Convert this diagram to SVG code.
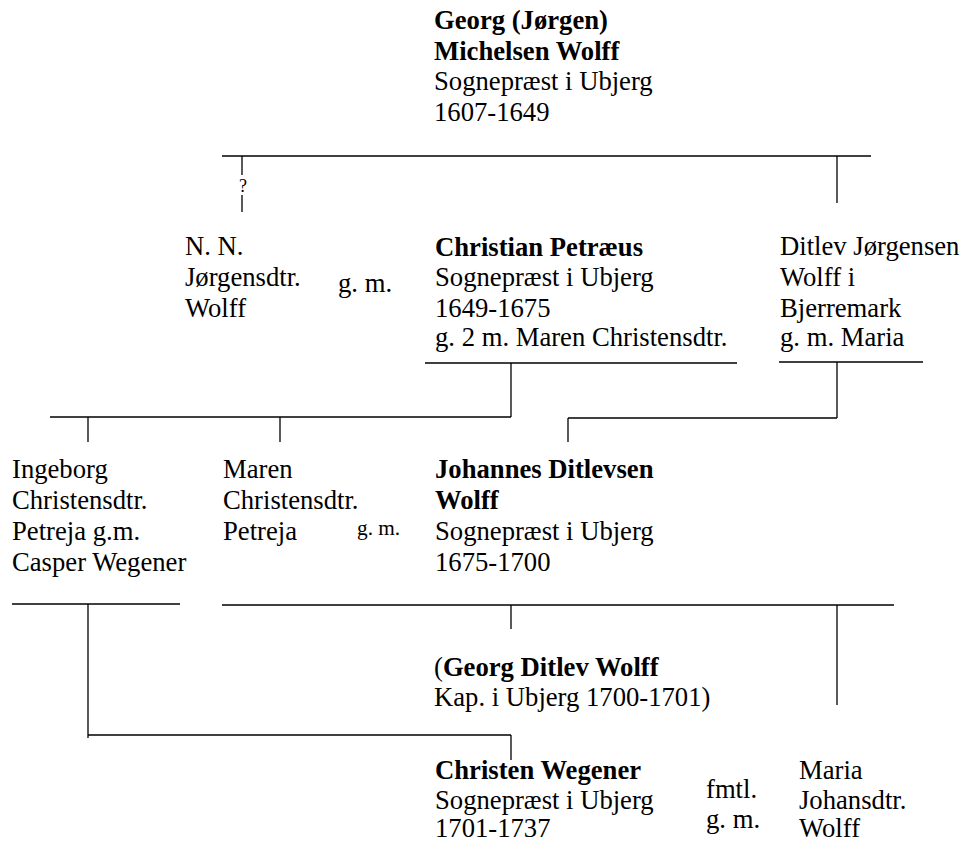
<svg xmlns="http://www.w3.org/2000/svg" width="962" height="843" viewBox="0 0 962 843">
<style>
  text { font-family: "Liberation Serif", "Times New Roman", serif; font-size: 26.67px; fill: #000; }
  .b { font-weight: bold; }
  .sm { font-size: 21.3px; }
  .q { font-size: 18px; }
  .c line { stroke: #000; stroke-width: 1.3; fill: none; }
</style>
<rect x="0" y="0" width="962" height="843" fill="#fff"/>
<g class="c" id="connectors">
  <line x1="222" y1="156" x2="871" y2="156"/>
  <line x1="242" y1="156" x2="242" y2="175"/>
  <line x1="242" y1="195" x2="242" y2="212"/>
  <line x1="837" y1="156" x2="837" y2="203"/>
  <line x1="425" y1="363" x2="737" y2="363"/>
  <line x1="511" y1="363" x2="511" y2="417"/>
  <line x1="50" y1="417" x2="511" y2="417"/>
  <line x1="88" y1="417" x2="88" y2="442"/>
  <line x1="280" y1="417" x2="280" y2="442"/>
  <line x1="779" y1="362" x2="923" y2="362"/>
  <line x1="837" y1="362" x2="837" y2="418"/>
  <line x1="568" y1="418" x2="837" y2="418"/>
  <line x1="568" y1="418" x2="568" y2="442"/>
  <line x1="12" y1="604" x2="180" y2="604"/>
  <line x1="88" y1="604" x2="88" y2="738"/>
  <line x1="88" y1="735" x2="511" y2="735"/>
  <line x1="511" y1="735" x2="511" y2="760"/>
  <line x1="222" y1="605" x2="894" y2="605"/>
  <line x1="511" y1="605" x2="511" y2="629"/>
  <line x1="837" y1="605" x2="837" y2="705"/>
  <text class="q" x="243" y="192" text-anchor="middle">?</text>
</g>
<g id="n-georg">
  <text class="b" x="434" y="29">Georg (Jørgen)</text>
  <text class="b" x="434" y="59.7">Michelsen Wolff</text>
  <text x="434" y="90.3">Sognepræst i Ubjerg</text>
  <text x="434" y="121">1607-1649</text>
</g>
<g id="n-nn">
  <text x="185" y="255">N. N.</text>
  <text x="185" y="286">Jørgensdtr.</text>
  <text x="185" y="317">Wolff</text>
</g>
<g id="gm-1"><text x="338" y="292">g. m.</text></g>
<g id="n-christian">
  <text class="b" x="435" y="256">Christian Petræus</text>
  <text x="435" y="286">Sognepræst i Ubjerg</text>
  <text x="435" y="317">1649-1675</text>
  <text x="435" y="346">g. 2 m. Maren Christensdtr.</text>
</g>
<g id="n-ditlev">
  <text x="780" y="255">Ditlev Jørgensen</text>
  <text x="780" y="286">Wolff i</text>
  <text x="780" y="317">Bjerremark</text>
  <text x="780" y="346">g. m. Maria</text>
</g>
<g id="n-ingeborg">
  <text x="12" y="478">Ingeborg</text>
  <text x="12" y="509">Christensdtr.</text>
  <text x="12" y="540">Petreja g.m.</text>
  <text x="12" y="571">Casper Wegener</text>
</g>
<g id="n-maren">
  <text x="223" y="478">Maren</text>
  <text x="223" y="509">Christensdtr.</text>
  <text x="223" y="540">Petreja</text>
</g>
<g id="gm-2"><text class="sm" x="357" y="535">g. m.</text></g>
<g id="n-johannes">
  <text class="b" x="435" y="478">Johannes Ditlevsen</text>
  <text class="b" x="435" y="509">Wolff</text>
  <text x="435" y="540">Sognepræst i Ubjerg</text>
  <text x="435" y="571">1675-1700</text>
</g>
<g id="n-georg-ditlev">
  <text x="434" y="676">(<tspan class="b">Georg Ditlev Wolff</tspan></text>
  <text x="434" y="706">Kap. i Ubjerg 1700-1701)</text>
</g>
<g id="n-christen">
  <text class="b" x="435" y="779">Christen Wegener</text>
  <text x="435" y="809">Sognepræst i Ubjerg</text>
  <text x="435" y="837">1701-1737</text>
</g>
<g id="fmtl">
  <text x="706" y="798">fmtl.</text>
  <text x="706" y="828">g. m.</text>
</g>
<g id="n-maria">
  <text x="799" y="779">Maria</text>
  <text x="799" y="809">Johansdtr.</text>
  <text x="799" y="837">Wolff</text>
</g>
</svg>
